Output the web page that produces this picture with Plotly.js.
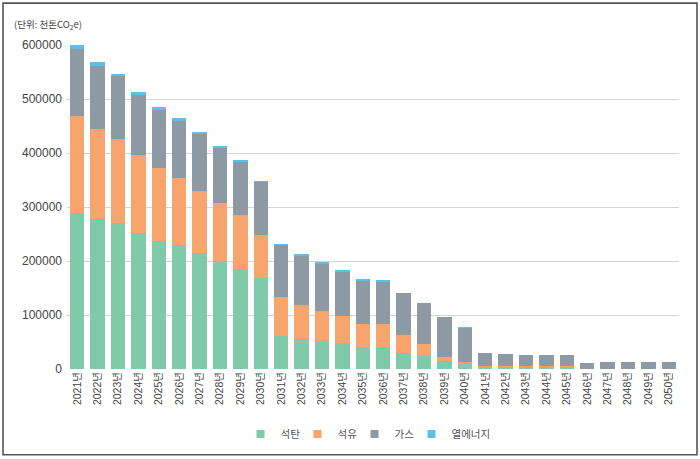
<!DOCTYPE html>
<html>
<head>
<meta charset="utf-8">
<script src="https://cdn.plot.ly/plotly-3.0.1.min.js"></script>
<style>
  html, body { margin: 0; padding: 0; background: #fff; }
  #chart { width: 700px; height: 459px; }
</style>
</head>
<body>
<div id="chart"></div>
<script>
const years = ["2021년","2022년","2023년","2024년","2025년","2026년","2027년","2028년","2029년","2030년",
               "2031년","2032년","2033년","2034년","2035년","2036년","2037년","2038년","2039년","2040년",
               "2041년","2042년","2043년","2044년","2045년","2046년","2047년","2048년","2049년","2050년"];
const coal = [288000,277000,271000,252000,237500,229000,215000,200500,185000,168500,
              60300,55400,52300,47400,40600,38800,29500,24600,14200,10500,
              3000,3000,3000,3000,3000,0,0,0,0,0];
const oil  = [181000,167000,155000,144000,134000,124000,114500,107000,99500,79000,
              73000,63300,54800,49900,43000,44800,33800,21600,7400,3000,
              2000,2000,2000,2000,2000,0,0,0,0,0];
const gas  = [124000,118000,116000,112000,108000,107000,106000,101000,99500,98000,
              95500,90500,86700,82400,79000,77600,77300,76000,74500,63000,
              25500,23300,21500,21500,21500,11700,13500,13500,13500,13500];
const heat = [7000,6000,5000,5000,5000,4000,4000,5000,3700,3500,
              3000,3000,4300,3100,3700,3100,1000,900,500,500,
              0,0,0,0,0,0,0,0,0,0];
const seriesNames = ["석탄","석유","가스","열에너지"];
const seriesColors = ["#7fcaa9","#f7a46d","#8e9aa3","#5cc1ea"];
const seriesValues = [coal, oil, gas, heat];

// plot area: x 67..679, y 45..370
const L = 67, R = 679, T = 45, B = 370;
const W = R - L, H = B - T;
const px = v => (v - L) / W;
const py = v => (B - v) / H;

const legendIds = ["legend", "legend2", "legend3", "legend4"];
const legendLeft = [240.5, 297.5, 354.5, 411.5];

const barTraces = seriesValues.map((vals, i) => ({
  type: "bar",
  name: seriesNames[i],
  legendgroup: seriesNames[i],
  showlegend: false,
  x: years,
  y: vals,
  marker: { color: seriesColors[i], line: { width: 0 } },
  hoverinfo: "skip"
}));
// legend-only entries (small square keys like the reference)
const keyTraces = seriesNames.map((n, i) => ({
  type: "scatter",
  mode: "markers",
  name: n,
  legendgroup: n,
  legend: legendIds[i],
  x: [years[0]],
  y: [null],
  marker: { symbol: "square", size: 8, color: seriesColors[i] },
  hoverinfo: "skip"
}));

const layout = {
  width: 700,
  height: 459,
  margin: { l: L, r: 700 - R, t: T, b: 459 - B, pad: 0 },
  paper_bgcolor: "#ffffff",
  plot_bgcolor: "#ffffff",
  font: { family: "Liberation Sans, Arial, Noto Sans CJK KR, sans-serif", color: "#444" },
  barmode: "stack",
  bargap: 0.29,
  showlegend: true,
  xaxis: {
    type: "category",
    range: [-0.5, 29.5],
    tickangle: -90,
    tickfont: { size: 10.5, color: "#444", family: "Liberation Sans, Noto Sans CJK KR, sans-serif" },
    showgrid: false,
    zeroline: false,
    showline: false,
    ticks: ""
  },
  yaxis: {
    range: [0, 600000],
    dtick: 100000,
    tick0: 0,
    tickformat: "d",
    tickfont: { size: 12, color: "#444" },
    showgrid: true,
    gridcolor: "#d4d4d4",
    gridwidth: 1,
    zeroline: false,
    showline: false,
    ticks: "",
    ticklabelstandoff: 4
  },
  annotations: [{
    xref: "paper", yref: "paper",
    x: px(12), y: py(24),
    xanchor: "left", yanchor: "middle",
    showarrow: false,
    text: "(단위: 천톤CO<sub>2</sub>e)",
    font: { size: 9.5, color: "#444", family: "Noto Sans CJK KR, Liberation Sans, sans-serif" }
  }],
  shapes: [{
    type: "rect",
    xref: "paper", yref: "paper",
    x0: px(3), x1: px(697), y0: py(456), y1: py(3),
    line: { color: "#555", width: 1.6 },
    fillcolor: "rgba(0,0,0,0)",
    layer: "below"
  }]
};
legendIds.forEach((id, i) => {
  layout[id] = {
    orientation: "h",
    x: px(legendLeft[i]), xanchor: "left",
    y: py(434), yanchor: "middle",
    font: { size: 10.5, color: "#555", family: "Noto Sans CJK KR, sans-serif" },
    itemwidth: 30,
    bgcolor: "rgba(0,0,0,0)",
    borderwidth: 0
  };
});

Plotly.newPlot("chart", barTraces.concat(keyTraces), layout, { staticPlot: true, displayModeBar: false });
</script>
</body>
</html>
